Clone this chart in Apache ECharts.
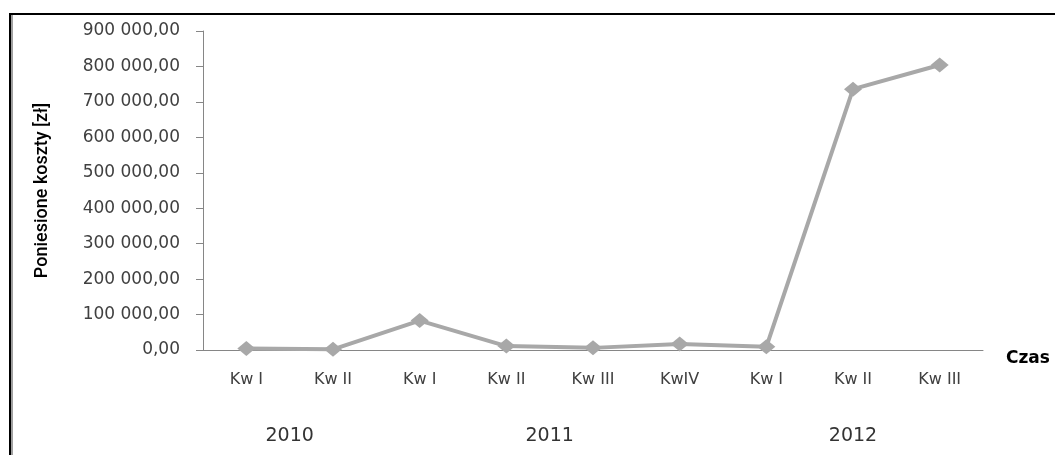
<!DOCTYPE html>
<html>
<head>
<meta charset="utf-8">
<script src="https://cdn.jsdelivr.net/npm/echarts@6/dist/echarts.min.js"></script>
<style>
  html, body { margin: 0; padding: 0; background: #fff; }
  #chart { width: 1055px; height: 455px; }
</style>
</head>
<body>
<div id="chart"></div>
<script>
// Quarterly costs, 2010 – 2012
const quarters = ['Kw I', 'Kw II', 'Kw I', 'Kw II', 'Kw III', 'KwIV', 'Kw I', 'Kw II', 'Kw III'];
const costs = [4000, 2000, 83000, 11000, 6000, 17000, 9000, 736000, 804000];
const years = ['2010', '2011', '2012'];
const quartersPerYear = [2, 4, 3];
const yTicks = { min: 0, max: 900000, interval: 100000 };

// centre of each year group, in category units
const yearCentres = [];
let start = 0;
quartersPerYear.forEach(n => { yearCentres.push(start + n / 2); start += n; });

const fmtPL = v => {
  const [i, d] = v.toFixed(2).split('.');
  return i.replace(/\B(?=(\d{3})+(?!\d))/g, ' ') + ',' + d;
};

const font = 'DejaVu Sans, sans-serif';
const chart = echarts.init(document.getElementById('chart'));
chart.setOption({
  backgroundColor: '#ffffff',
  animation: false,
  grid: { left: 203, right: 72, top: 31, bottom: 105 },
  xAxis: [
    {
      type: 'category',
      data: quarters,
      boundaryGap: true,
      axisLine: { lineStyle: { color: '#868686', width: 1 } },
      axisTick: { show: false },
      axisLabel: { color: '#404040', fontFamily: font, fontSize: 16, margin: 22, interval: 0 },
      name: 'Czas',
      nameLocation: 'end',
      nameGap: 23,
      nameTextStyle: { color: '#000', fontFamily: font, fontWeight: 'bold', fontSize: 17, verticalAlign: 'top', padding: [0, 0, 0, 0] }
    },
    {
      type: 'value',
      position: 'bottom',
      min: 0,
      max: quarters.length,
      axisLine: { show: false },
      axisTick: { show: false },
      splitLine: { show: false },
      axisLabel: {
        customValues: yearCentres,
        formatter: v => years[yearCentres.indexOf(v)] || '',
        color: '#333333', fontFamily: font, fontSize: 19, margin: 77
      }
    }
  ],
  yAxis: {
    type: 'value',
    min: yTicks.min,
    max: yTicks.max,
    interval: yTicks.interval,
    axisLine: { show: true, lineStyle: { color: '#868686', width: 1 } },
    axisTick: { show: true, length: 7, lineStyle: { color: '#868686' } },
    splitLine: { show: false },
    axisLabel: { color: '#404040', fontFamily: font, fontSize: 17, margin: 23, formatter: fmtPL },
    name: 'Poniesione koszty [zł]',
    nameLocation: 'middle',
    nameGap: 152,
    nameRotate: 90,
    nameTextStyle: { color: '#000', fontFamily: 'Roboto, sans-serif', fontSize: 18, fontWeight: 500 }
  },
  series: [{
    type: 'line',
    xAxisIndex: 0,
    data: costs,
    symbol: 'diamond',
    symbolSize: [18, 15],
    lineStyle: { color: '#a8a8a8', width: 4 },
    itemStyle: { color: '#a8a8a8' }
  }],
  graphic: [
    { type: 'rect', shape: { x: 10, y: 13, width: 1045, height: 2 }, style: { fill: '#000' } },
    { type: 'rect', shape: { x: 9, y: 13, width: 2, height: 442 }, style: { fill: '#000' } },
    { type: 'rect', shape: { x: 11, y: 15, width: 2, height: 440 }, style: { fill: '#a0a0a0' } }
  ]
});
</script>
</body>
</html>
